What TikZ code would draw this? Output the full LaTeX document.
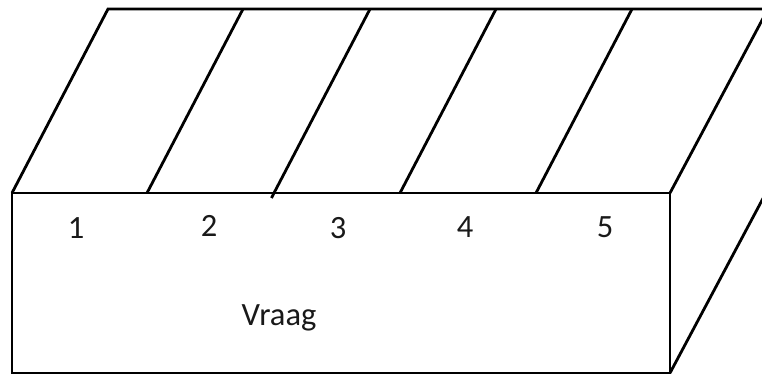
\documentclass[tikz,border=0pt]{standalone}
\usepackage{fontspec}
\setmainfont{Carlito}
\begin{document}
\begin{tikzpicture}[x=1pt,y=-1pt,
  edge/.style={line width=2.8pt, line cap=butt, line join=miter, black},
  lbl/.style={font=\fontsize{32.5}{38}\selectfont, inner sep=0pt, text=black!90}]
\useasboundingbox (0,0) rectangle (762,375);
\clip (0,0) rectangle (762,375);
% corners
\coordinate (fl) at (12,193);
\coordinate (fr) at (670,193);
\coordinate (bl) at (12,373);
\coordinate (br) at (670,373);
\coordinate (tl) at (108,9);
\coordinate (tr) at (768,9);
\coordinate (rb) at (768,189);
% front face
\draw[edge] (fl) rectangle (br);
% top face
\draw[edge] (fl) -- (tl) -- (tr) -- (fr);
% right face
\draw[edge] (br) -- (rb) -- (tr);
% dividers
\foreach \x/\n in {147/a, 274/b, 400/c, 536/d}{
  \coordinate (d\n1) at (\x,193);
  \coordinate (d\n2) at (\x+96,9);
  \draw[edge] (d\n1) -- (d\n2);
}
\draw[edge] (274,193) -- (271.5,198);
% labels
\node[lbl] (l1) at (76,228) {1};
\node[lbl] (l2) at (209,226) {2};
\node[lbl] (l3) at (338,228) {3};
\node[lbl] (l4) at (465,227) {4};
\node[lbl] (l5) at (605,227) {5};
\node[lbl] (vr) at (279,318) {Vraag};
\end{tikzpicture}
\end{document}
